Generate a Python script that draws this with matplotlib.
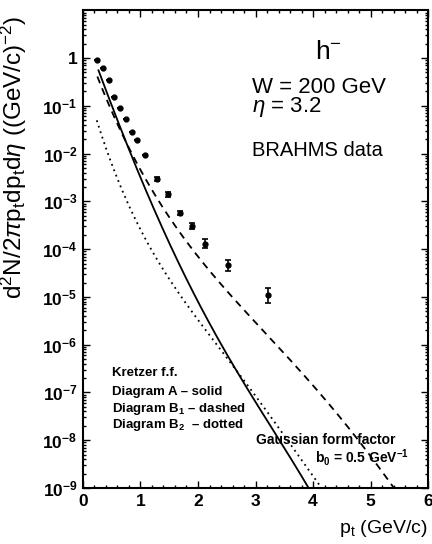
import numpy as np
from matplotlib import pyplot as plt
from matplotlib.ticker import MultipleLocator, LogLocator, FixedLocator, NullFormatter

plt.rcParams['font.family'] = ['Liberation Sans', 'DejaVu Sans']
plt.rcParams['mathtext.fontset'] = 'custom'
plt.rcParams['mathtext.rm'] = 'Liberation Sans'
plt.rcParams['mathtext.it'] = 'Liberation Sans:italic'
plt.rcParams['mathtext.bf'] = 'Liberation Sans:bold'

# BRAHMS h- data (pt, yield, err low, err high)
data_pt = [0.24, 0.34, 0.45, 0.545, 0.65, 0.75, 0.85, 0.94, 1.08, 1.28, 1.48, 1.69, 1.90, 2.13, 2.52, 3.22]
data_y = [0.9, 0.62, 0.34, 0.15, 0.089, 0.052, 0.028, 0.019, 0.0093, 0.0030, 0.0014, 5.7e-4, 3.1e-4, 1.3e-4, 4.7e-5, 1.1e-5]
data_elo = [0, 0, 0, 0, 0, 0, 0, 0, 0, 0.0003, 0.00015, 0.6e-4, 0.4e-4, 0.25e-4, 1.2e-5, 3.5e-6]
data_ehi = [0, 0, 0, 0, 0, 0, 0, 0, 0, 0.0003, 0.00015, 0.6e-4, 0.4e-4, 0.3e-4, 1.3e-5, 4.4e-6]

# curves, log10 of the yield
solid_pt = [0.27, 0.5, 0.83, 1.2, 1.55, 1.95, 2.4, 2.9, 3.42, 3.92]
solid_log = [-0.24, -1.0, -2.05, -3.0, -4.0, -5.0, -6.0, -7.0, -8.0, -9.0]
dashed_pt = [0.25, 0.5, 0.85, 1.4, 1.85, 2.6, 3.35, 4.1, 4.8, 5.4]
dashed_log = [-0.32, -1.2, -2.05, -3.0, -4.0, -5.0, -6.0, -7.0, -8.0, -9.0]
dotted_pt = [0.24, 0.35, 0.45, 0.77, 1.17, 1.7, 2.35, 2.95, 3.55, 4.15]
dotted_log = [-1.33, -1.72, -2.0, -3.0, -4.0, -5.0, -6.0, -7.0, -8.0, -9.0]


#smooth curve through the read points
def smooth(px, py, deg=4):
    c = np.polyfit(px, py, deg)
    xs = np.linspace(px[0], px[-1], 300)
    return xs, 10**np.polyval(c, xs)


fig = plt.figure(figsize=(4.32, 5.44), dpi=100)
ax = fig.add_axes([0.192, 0.103, 0.799, 0.878])

x, y = smooth(solid_pt, solid_log)
ax.plot(x, y, color='k', lw=1.3)
x, y = smooth(dashed_pt, dashed_log)
ax.plot(x, y, color='k', lw=1.3, dashes=(4, 3))
x, y = smooth(dotted_pt, dotted_log)
ax.plot(x, y, color='k', lw=1.3, dashes=(1, 2.2))

ax.errorbar(data_pt, data_y, yerr=[data_elo, data_ehi], fmt='o', color='k',
            ms=3.5, elinewidth=1.2, capsize=2, capthick=1.2)

ax.set_yscale('log')
ax.set_xlim(0, 6)
ax.set_ylim(1e-9, 10)
ax.xaxis.set_major_locator(MultipleLocator(1))
ax.xaxis.set_minor_locator(MultipleLocator(0.2))
ax.yaxis.set_major_locator(FixedLocator([10.0**k for k in range(-9, 1)]))
ax.yaxis.set_minor_locator(LogLocator(base=10, subs=np.arange(2, 10), numticks=20))
ax.yaxis.set_minor_formatter(NullFormatter())
ax.set_yticklabels(['$\\mathbf{10^{-%d}}$' % k for k in range(9, 0, -1)] + ['1'])
ax.tick_params(which='both', direction='in', top=True, right=True, width=1.0)
ax.tick_params(which='major', length=5, labelsize=12.5, pad=4)
ax.tick_params(which='minor', length=2.5)
for lab in ax.get_xticklabels() + ax.get_yticklabels():
    lab.set_fontweight('bold')
for s in ax.spines.values():
    s.set_linewidth(1.5)

ax.set_xlabel('p$_\\mathrm{t}$ (GeV/c)', fontsize=14, loc='right', labelpad=7)
ax.set_ylabel('d$^2$N/2$\\pi$p$_\\mathrm{t}$dp$_\\mathrm{t}$d$\\eta$ ((GeV/c)$^{-2}$)',
              fontsize=17.5, loc='top', labelpad=4)
ax.yaxis.set_label_coords(-0.155, 0.99)

tr = ax.transAxes
ax.text(0.672, 0.912, 'h$^{-}$', transform=tr, fontsize=19, va='center')
ax.text(0.49, 0.839, 'W = 200 GeV', transform=tr, fontsize=16, va='center')
ax.text(0.49, 0.797, '$\\eta$ = 3.2', transform=tr, fontsize=16, va='center')
ax.text(0.49, 0.707, 'BRAHMS data', transform=tr, fontsize=14.5, va='center')

ax.text(0.084, 0.240, 'Kretzer f.f.', transform=tr, fontsize=9.5, fontweight='bold', va='center')
ax.text(0.084, 0.200, 'Diagram A \u2013 solid', transform=tr, fontsize=9.5, fontweight='bold', va='center')
ax.text(0.084, 0.166, 'Diagram B$_\\mathbf{1}$ \u2013 dashed', transform=tr, fontsize=9.5, fontweight='bold', va='center')
ax.text(0.084, 0.131, 'Diagram B$_\\mathbf{2}$  \u2013 dotted', transform=tr, fontsize=9.5, fontweight='bold', va='center')
ax.text(0.501, 0.100, 'Gaussian form factor', transform=tr, fontsize=10, fontweight='bold', va='center')
ax.text(0.672, 0.064, 'b$_\\mathbf{0}$ = 0.5 GeV$^\\mathbf{-1}$', transform=tr, fontsize=10, fontweight='bold', va='center')

fig.savefig('out.png', dpi=100)
